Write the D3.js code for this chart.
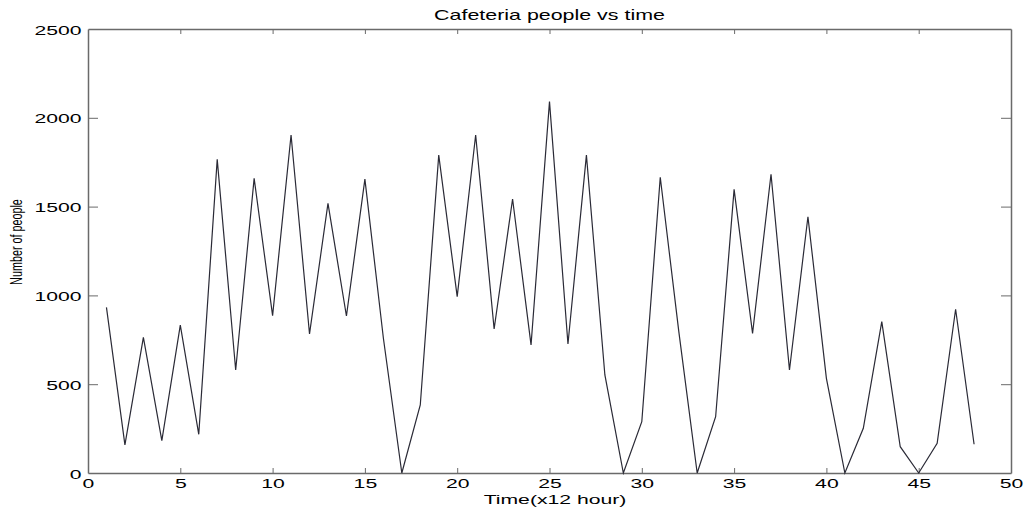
<!DOCTYPE html>
<html>
<head>
<meta charset="utf-8">
<script src="https://cdn.jsdelivr.net/npm/d3@7"></script>
<style>
  html, body { margin: 0; padding: 0; background: #fff; }
  svg { display: block; }
  text { font-family: "Liberation Sans", Arial, Helvetica, sans-serif; fill: #000; }
</style>
</head>
<body>
<svg id="chart" width="1032" height="508"></svg>
<script>
// ---- data ----
const timeSteps = [1,2,3,4,5,6,7,8,9,10,11,12,13,14,15,16,17,18,19,20,21,22,23,24,25,26,27,28,29,30,31,32,33,34,35,36,37,38,39,40,41,42,43,44,45,46,47,48];
const people = [933,158,764,182,833,218,1766,580,1659,886,1903,783,1518,884,1655,760,0,383,1790,993,1903,811,1543,721,2091,726,1790,552,0,289,1665,800,0,317,1597,786,1682,580,1443,533,0,252,852,148,0,167,922,162];
const xTicks = [0,5,10,15,20,25,30,35,40,45,50];
const yTicks = [0,500,1000,1500,2000,2500];
const titleText = "Cafeteria people vs time";
const xLabelText = "Time(x12 hour)";
const yLabelText = "Number of people";

// ---- layout ----
const plotLeft = 88, plotRight = 1011, plotTop = 29, plotBottom = 473;
const SX = 1.57; // horizontal stretch of the reference's text
const axisColor = "#6a6a6a";

const svg = d3.select("#chart");

const x = d3.scaleLinear().domain([0, 50]).range([plotLeft, plotRight]);
const y = d3.scaleLinear().domain([0, 2500]).range([plotBottom, plotTop]);

function styleAxis(g) {
  g.selectAll("path.domain").attr("stroke", axisColor).attr("stroke-width", 1.5);
  g.selectAll(".tick line").attr("stroke", axisColor).attr("stroke-width", 1);
}

// bottom axis with labels
const gB = svg.append("g").attr("transform", `translate(0,${plotBottom})`)
  .call(d3.axisBottom(x).tickValues(xTicks).tickFormat(d3.format("d")).tickSizeInner(-5).tickSizeOuter(0).tickPadding(0));
styleAxis(gB);
gB.selectAll(".tick text")
  .attr("y", 15).attr("dy", 0)
  .attr("transform", `scale(${SX},1)`)
  .style("font-size", "13.5px")
  .attr("fill", "#000");

// top axis (ticks only)
const gT = svg.append("g").attr("transform", `translate(0,${plotTop})`)
  .call(d3.axisTop(x).tickValues(xTicks).tickSizeInner(-5).tickSizeOuter(0).tickFormat(""));
styleAxis(gT);

// left axis with labels
const gL = svg.append("g").attr("transform", `translate(${plotLeft},0)`)
  .call(d3.axisLeft(y).tickValues(yTicks).tickFormat(d3.format("d")).tickSizeInner(-10).tickSizeOuter(0).tickPadding(0));
styleAxis(gL);
gL.selectAll(".tick text")
  .attr("x", -6.5 / SX).attr("dy", "0.38em")
  .attr("transform", `scale(${SX},1)`)
  .style("font-size", "13.5px")
  .attr("fill", "#000");

// right axis (ticks only)
const gR = svg.append("g").attr("transform", `translate(${plotRight},0)`)
  .call(d3.axisRight(y).tickValues(yTicks).tickSizeInner(-10).tickSizeOuter(0).tickFormat(""));
styleAxis(gR);

// remove edge ticks that coincide with the box
[gB, gT].forEach(g => g.selectAll(".tick line").filter(d => d === 0 || d === 50).remove());
[gL, gR].forEach(g => g.selectAll(".tick line").filter(d => d === 0 || d === 2500).remove());

// data line
const line = d3.line().x((d, i) => x(timeSteps[i])).y(d => y(d));
svg.append("path")
  .datum(people)
  .attr("d", line)
  .attr("fill", "none")
  .attr("stroke", "#2a2a36")
  .attr("stroke-width", 1.2)
  .attr("stroke-linejoin", "miter");

// title
svg.append("text")
  .attr("transform", `translate(${(plotLeft + plotRight) / 2},20) scale(1.53,1)`)
  .attr("text-anchor", "middle")
  .style("font-size", "14px")
  .text(titleText);

// x label
svg.append("text")
  .attr("transform", `translate(555,504) scale(1.63,1)`)
  .attr("text-anchor", "middle")
  .style("font-size", "13px")
  .text(xLabelText);

// y label (vertical)
svg.append("text")
  .attr("transform", `translate(22,242) rotate(-90) scale(1,1.5)`)
  .attr("text-anchor", "middle")
  .style("font-size", "10.8px")
  .text(yLabelText);
</script>
</body>
</html>
